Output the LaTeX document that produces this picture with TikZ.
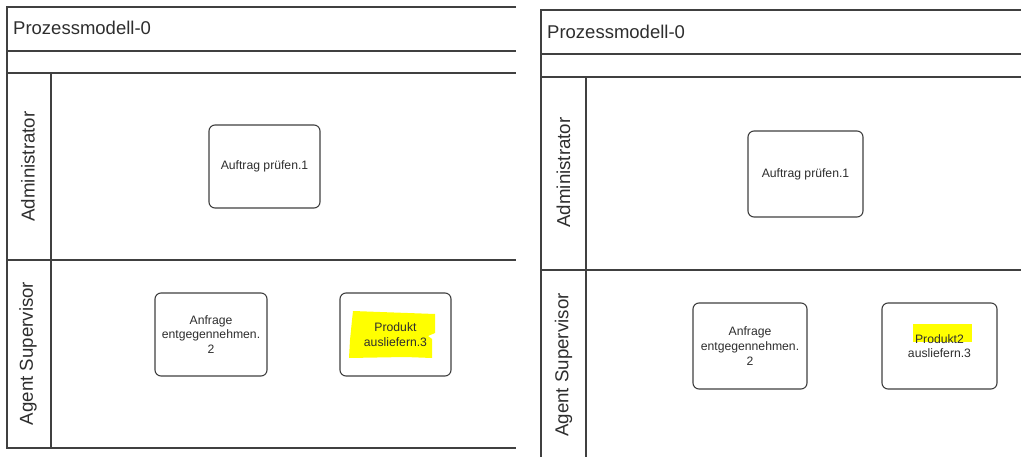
\documentclass[tikz,border=0pt]{standalone}
\usepackage{fontspec}
\setmainfont{Liberation Sans}
\usepackage{tikz}

\definecolor{lanegray}{HTML}{404040}
\definecolor{textgray}{HTML}{2E2E2E}
\definecolor{marker}{HTML}{FFFF00}

\tikzset{
  lane/.style={draw=lanegray, line width=1.2pt},
  task/.style={draw=lanegray, line width=1.1pt, rounded corners=6pt, fill=white,
    align=center, text=textgray, inner sep=0pt,
    font=\fontsize{12.2}{14.7}\selectfont},
  lanelabel/.style={rotate=90, text=textgray, inner sep=0pt,
    font=\fontsize{18.7}{22}\selectfont},
  pooltitle/.style={anchor=base west, text=textgray, inner sep=0pt,
    font=\fontsize{18.5}{22}\selectfont}
}

\begin{document}
\begin{tikzpicture}[x=1pt, y=-1pt]
                \useasboundingbox (0,0) rectangle (1021,457);

                % linkes Modell
                \draw[lane] (516,7) -- (7,7) -- (7,448) -- (516,448);
                \draw[lane] (7,51) -- (516,51);
                \draw[lane] (7,73) -- (516,73);
                \draw[lane] (7,260) -- (516,260);
                \draw[lane] (51,73) -- (51,448);
                \node[pooltitle] (titelL) at (13,35) {Prozessmodell-0};
                \node[lanelabel] (adminL) at (28,166.5) {Administrator};
                \node[lanelabel] (agentL) at (28,353.5) {Agent Supervisor};

                \node[task, minimum width=111pt, minimum height=83pt] (pruefenL) at (264.5,166.5) {Auftrag prüfen.1};
                \node[task, minimum width=112pt, minimum height=83pt] (anfrageL) at (211,334.5) {Anfrage\\entgegennehmen.\\2};
                \node[task, minimum width=111pt, minimum height=83pt] (produktL) at (395.5,334.5) {};
                \fill[marker] (353,311) -- (380,312) -- (435,314) -- (435,333) -- (428,336)
                    -- (432,339) -- (432,358) -- (405,357) -- (349,358) -- (350,340) -- (352,320) -- cycle;
                \node[task, draw=none, fill=none] (produktLtext) at (produktL) {Produkt\\ausliefern.3};

                % rechtes Modell
                \draw[lane] (1021,10) -- (541,10) -- (541,457);
                \draw[lane] (541,54) -- (1021,54);
                \draw[lane] (541,77) -- (1021,77);
                \draw[lane] (541,270) -- (1021,270);
                \draw[lane] (586,77) -- (586,457);
                \node[pooltitle] (titelR) at (547,39) {Prozessmodell-0};
                \node[lanelabel] (adminR) at (563.5,172.5) {Administrator};
                \node[lanelabel] (agentR) at (563.5,365) {Agent Supervisor};

                \node[task, minimum width=115pt, minimum height=86pt] (pruefenR) at (805.5,174) {Auftrag prüfen.1};
                \node[task, minimum width=114pt, minimum height=86pt] (anfrageR) at (750,346) {Anfrage\\entgegennehmen.\\2};
                \node[task, minimum width=115pt, minimum height=86pt] (produktR) at (939.5,346) {};
                \fill[marker] (913,324) rectangle (972,342);
                \node[task, draw=none, fill=none] (produktRtext) at (produktR) {Produkt2\\ausliefern.3};
            \end{tikzpicture}
\end{document}
